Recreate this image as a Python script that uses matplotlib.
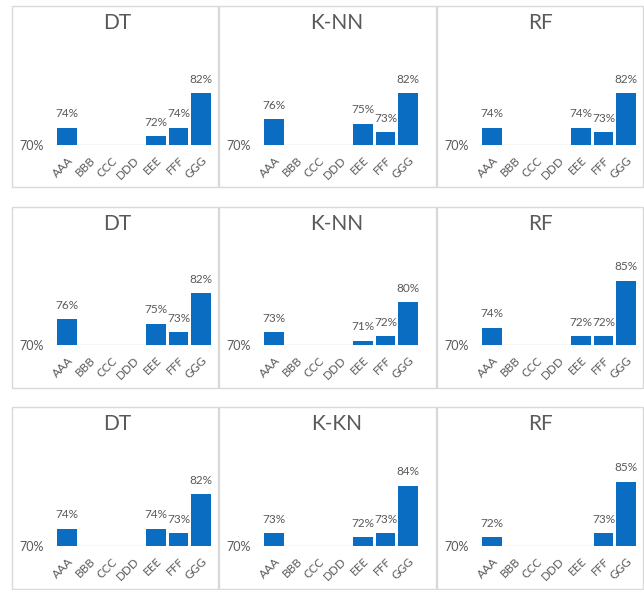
"""Grid of small accuracy bar charts (DT / K-NN / RF) over seven groups."""

import matplotlib

matplotlib.use("Agg")
import matplotlib.pyplot as plt
import numpy as np
from matplotlib.patches import Rectangle

categories = ["AAA", "BBB", "CCC", "DDD", "EEE", "FFF", "GGG"]
nan = np.nan

titles = [
    ["DT", "K-NN", "RF"],
    ["DT", "K-NN", "RF"],
    ["DT", "K-KN", "RF"],
]

# accuracy (%) per category; nan = no bar
row1_dt = [74, nan, nan, nan, 72, 74, 82]
row1_knn = [76, nan, nan, nan, 75, 73, 82]
row1_rf = [74, nan, nan, nan, 74, 73, 82]
row2_dt = [76, nan, nan, nan, 75, 73, 82]
row2_knn = [73, nan, nan, nan, 71, 72, 80]
row2_rf = [74, nan, nan, nan, 72, 72, 85]
row3_dt = [74, nan, nan, nan, 74, 73, 82]
row3_kkn = [73, nan, nan, nan, 72, 73, 84]
row3_rf = [72, nan, nan, nan, nan, 73, 85]

values = [
    [row1_dt, row1_knn, row1_rf],
    [row2_dt, row2_knn, row2_rf],
    [row3_dt, row3_kkn, row3_rf],
]

BASE = 70
TOP = 90
BLUE = "#0A6DC2"
GREY = "#595959"
FONT = "Lato"

W, H = 644, 590
fig = plt.figure(figsize=(W / 100, H / 100), dpi=100)

col_box = [(12, 218), (219, 436), (437, 643)]
row_box = [(6, 187), (207, 388), (407, 589)]
baseline_off = [139, 138, 139]
title_x = [117, 337, 540]
plot_w = 156
px_per_pct = 4.3


def fx(px):
    return px / W


def fy(py):
    return 1 - py / H


for r in range(3):
    top, bottom = row_box[r]
    for c in range(3):
        left, right = col_box[c]
        fig.patches.append(
            Rectangle((fx(left), fy(bottom)), fx(right - left), (bottom - top) / H,
                      transform=fig.transFigure, fill=False, ec="#D9D9D9", lw=1.0)
        )
        fig.text(fx(title_x[c]), fy(top + 17), titles[r][c], ha="center", va="center",
                 fontsize=15, color=GREY, family=FONT)

        base_y = top + baseline_off[r]
        ax_h = (TOP - BASE) * px_per_pct
        ax = fig.add_axes([fx(left + 44), fy(base_y), plot_w / W, ax_h / H])
        ax.set_xlim(-0.5, len(categories) - 0.5)
        ax.set_ylim(BASE, TOP)

        vals = np.array(values[r][c], dtype=float)
        x = np.arange(len(categories))
        have = ~np.isnan(vals)
        ax.bar(x[have], vals[have] - BASE, bottom=BASE, width=0.88, color=BLUE)
        for xi, v in zip(x[have], vals[have]):
            ax.annotate(f"{v:.0f}%", (xi, v), xytext=(0, 6), textcoords="offset points",
                        ha="center", va="bottom", fontsize=8.5, color=GREY, family=FONT)

        for s in ax.spines.values():
            s.set_visible(False)
        ax.axhline(BASE, color="#D9D9D9", lw=1.0, zorder=0)
        ax.set_yticks([BASE], ["70%"])
        ax.set_xticks(x, categories)
        ax.tick_params(axis="y", length=0, pad=9, labelsize=9, labelcolor=GREY)
        ax.tick_params(axis="x", length=0, pad=7, labelsize=8.5, labelcolor=GREY)
        for lab in ax.get_yticklabels() + ax.get_xticklabels():
            lab.set_family(FONT)
        for lab in ax.get_xticklabels():
            lab.set_rotation(45)
            lab.set_ha("right")
            lab.set_rotation_mode("anchor")
        ax.patch.set_alpha(0)

fig.savefig("out.png", dpi=100)
plt.close(fig)
